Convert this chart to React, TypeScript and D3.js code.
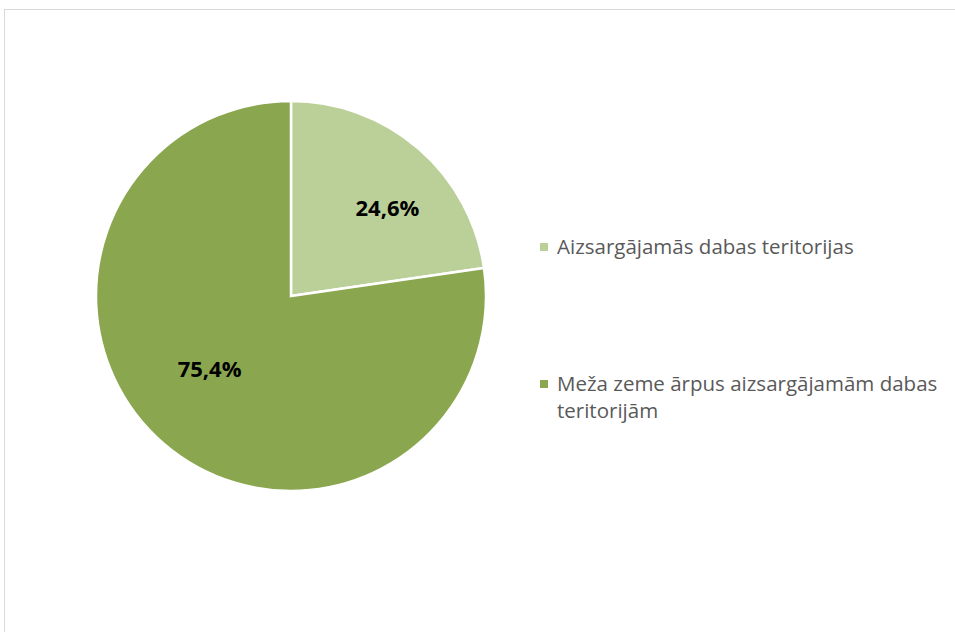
import React, { useEffect, useRef } from "react";
import * as d3 from "d3";

const categories = [
  "Aizsargājamās dabas teritorijas",
  "Meža zeme ārpus aizsargājamām dabas teritorijām",
];
const legendLines = [
  ["Aizsargājamās dabas teritorijas"],
  ["Meža zeme ārpus aizsargājamām dabas", "teritorijām"],
];
// slice shares as drawn in the picture (the printed labels differ slightly)
const sliceShares = [22.7, 77.3];
const valueLabels = ["24,6%", "75,4%"];
const colors = ["#bbcf98", "#8aa64f"];
const labelRadius = [0.667, 0.563]; // share of radius where each value label sits

type Slice = { name: string; value: number; label: string };

const App = () => {
  const svgRef = useRef<SVGSVGElement>(null);

  useEffect(() => {
    const svg = d3.select(svgRef.current);
    svg.selectAll("*").remove();

    const width = 955;
    const height = 632;
    const cx = 291;
    const cy = 296;
    const radius = 195;
    const font = "'Open Sans', sans-serif";
    const labelShift = (7 * Math.PI) / 180;

    // chart area border
    svg
      .append("rect")
      .attr("x", 4.5)
      .attr("y", 9.5)
      .attr("width", 960)
      .attr("height", 640)
      .attr("fill", "#fff")
      .attr("stroke", "#d9d9d9")
      .attr("stroke-width", 1);

    const data: Slice[] = categories.map((c, i) => ({
      name: c,
      value: sliceShares[i],
      label: valueLabels[i],
    }));

    const pie = d3
      .pie<Slice>()
      .sort(null)
      .value((d) => d.value);

    const arc = d3.arc<d3.PieArcDatum<Slice>>().innerRadius(0).outerRadius(radius);

    const g = svg.append("g").attr("transform", `translate(${cx},${cy})`);

    const arcs = pie(data);

    g.selectAll("path")
      .data(arcs)
      .join("path")
      .attr("d", arc)
      .attr("fill", (d, i) => colors[i])
      .attr("stroke", "#fff")
      .attr("stroke-width", 2.5)
      .attr("stroke-linejoin", "miter");

    g.selectAll("text.lbl")
      .data(arcs)
      .join("text")
      .attr("class", "lbl")
      .attr("transform", (d, i) => {
        const mid = (d.startAngle + d.endAngle) / 2 + labelShift;
        const [x, y] = d3.pointRadial(mid, radius * labelRadius[i]);
        return `translate(${x},${y})`;
      })
      .attr("text-anchor", "middle")
      .attr("dy", "0.35em")
      .style("font-family", font)
      .style("font-size", "22px")
      .style("font-weight", "bold")
      .style("fill", "#000")
      .text((d) => d.data.label);

    // legend
    const legendY = [247, 384];
    const legend = svg
      .selectAll("g.legend")
      .data(legendLines)
      .join("g")
      .attr("class", "legend")
      .attr("transform", (d, i) => `translate(540,${legendY[i]})`);

    legend
      .append("rect")
      .attr("x", 0)
      .attr("y", -4)
      .attr("width", 8)
      .attr("height", 8)
      .attr("fill", (d, i) => colors[i]);

    legend.each(function (lines) {
      const t = d3
        .select(this)
        .append("text")
        .style("font-family", font)
        .style("font-size", "20.5px")
        .style("fill", "#595959");
      lines.forEach((line, j) => {
        t.append("tspan")
          .attr("x", 17)
          .attr("y", j * 27)
          .attr("dy", "0.35em")
          .text(line);
      });
    });

    svg.attr("width", width).attr("height", height);
  }, []);

  return (
    <svg
      ref={svgRef}
      width={955}
      height={632}
      style={{ position: "absolute", left: 0, top: 0 }}
    />
  );
};

export default App;
